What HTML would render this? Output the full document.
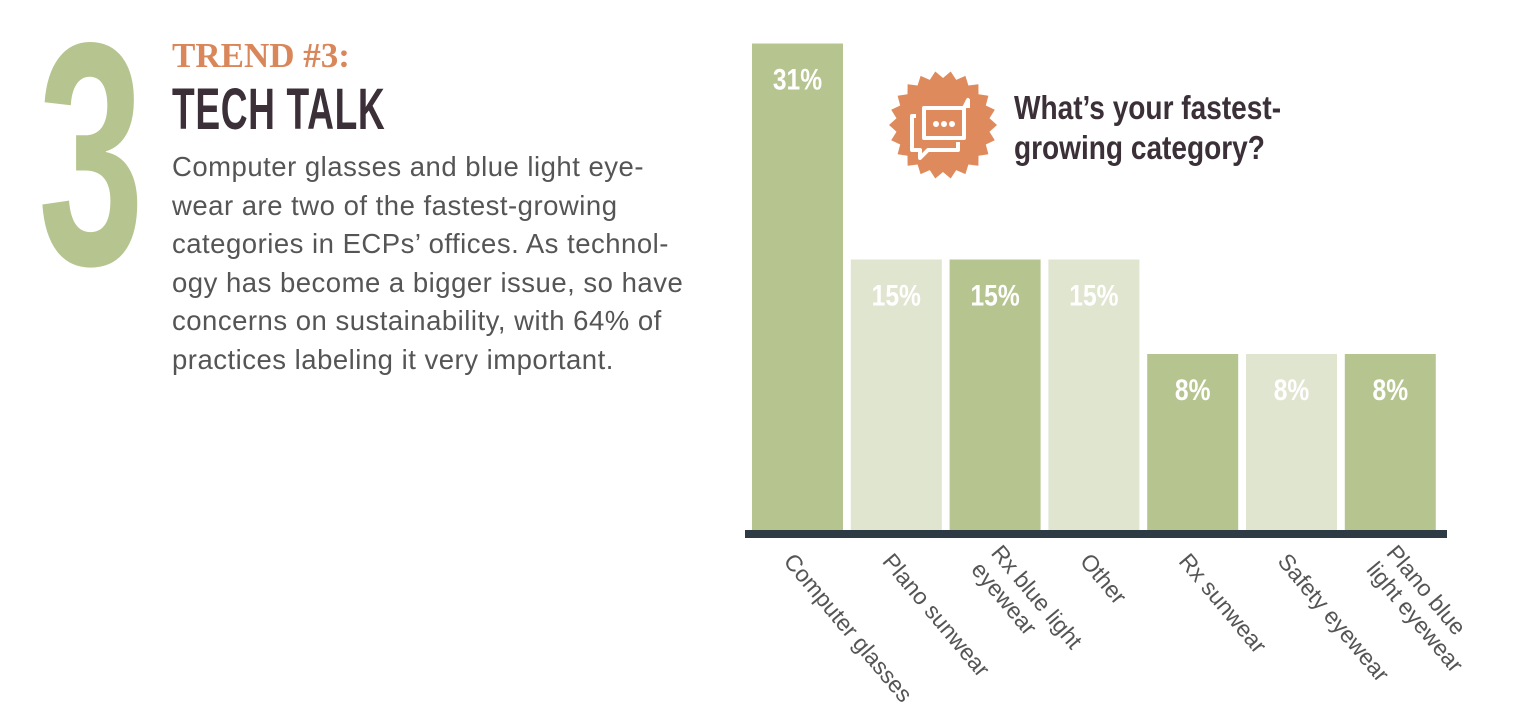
<!DOCTYPE html>
<html><head><meta charset="utf-8"><style>
body{margin:0;width:1530px;height:722px;background:#fff;overflow:hidden;font-family:"Liberation Sans",sans-serif;position:relative}
.a{position:absolute}
</style></head><body>
<div class="a" style="left:38px;top:-4px;font-size:318px;font-weight:bold;color:#b6c48f;transform:scaleX(0.6);transform-origin:left top;line-height:1">3</div>
<div class="a" style="left:172px;top:36px;font-family:'Liberation Serif',serif;font-weight:bold;font-size:35px;color:#d9875a">TREND #3:</div>
<div class="a" style="left:172px;top:76px;font-weight:bold;font-size:58px;color:#3b2f38;transform:scaleX(0.64);transform-origin:left top;letter-spacing:1px">TECH TALK</div>
<div class="a" style="left:172px;top:148px;width:580px;font-size:27.5px;line-height:38.5px;color:#555;letter-spacing:0.5px">Computer glasses and blue light eye-<br>wear are two of the fastest-growing<br>categories in ECPs’ offices. As technol-<br>ogy has become a bigger issue, so have<br>concerns on sustainability, with 64% of<br>practices labeling it very important.</div>
<svg id="chart" class="a" style="left:0;top:0" width="1530" height="722"></svg>
<script>
const categories=["Computer glasses","Plano sunwear","Rx blue light|eyewear","Other","Rx sunwear","Safety eyewear","Plano blue|light eyewear"];
const values=[31,15,15,15,8,8,8];
const labels=["31%","15%","15%","15%","8%","8%","8%"];
const shades=["d","l","d","l","d","l","d"];
const svg=document.getElementById('chart');const NS="http://www.w3.org/2000/svg";
const base=530,x0=752,step=98.8,bw=91;
function y(v){return base-(68+13.5*v);}
function mk(t,a){const e=document.createElementNS(NS,t);for(const k in a)e.setAttribute(k,a[k]);svg.appendChild(e);return e;}
values.forEach((v,i)=>{
 const x=x0+i*step;
 const r=mk('rect',{x:x,y:y(v),width:bw,height:base-y(v),fill:shades[i]=="d"?"#b6c48f":"#e0e5d0"});
 
 
 const t=mk('text',{x:x+bw/2,y:y(v)+46,'text-anchor':'middle','font-size':30,'font-weight':'bold',fill:'#fff','font-family':'Liberation Sans, sans-serif',transform:`translate(${x+bw/2} 0) scale(0.82 1) translate(${-(x+bw/2)} 0)`});
 t.textContent=labels[i];
 
 
 const lines=categories[i].split('|');
 const g=mk('g',{transform:`translate(${x+bw/2-8} 556) rotate(50)`});
 
 
 lines.forEach((ln,j)=>{const tt=document.createElementNS(NS,'text');
  tt.setAttribute('x',0);tt.setAttribute('y',(j-(lines.length-1))*26+9+(lines.length>1?13:0));
  tt.setAttribute('font-size',23);tt.setAttribute('fill','#555');tt.setAttribute('font-family','Liberation Sans, sans-serif');
  tt.textContent=ln;g.appendChild(tt);});
});
const ax=mk('rect',{x:745,y:530,width:702,height:8,fill:'#2e3a44'});


</script>
<svg class="a" style="left:888px;top:70px" width="110" height="110" viewBox="0 0 110 110">
<polygon fill="#df8a5c" points="" id="star"/>
<g fill="none" stroke="#fff" stroke-width="4" stroke-linejoin="round">
<path d="M36 38 h40 v30 h-40 z"/>
<path d="M28 46 h-4 v34 h8 v8 l8 -8 h30 v-8"/>
<path d="M76 38 l4 -8 v8"/>
</g>
<g fill="#fff"><circle cx="48" cy="54" r="3"/><circle cx="56" cy="54" r="3"/><circle cx="64" cy="54" r="3"/></g>
</svg>
<script>
(function(){let p=[];const n=22;for(let i=0;i<n*2;i++){const r=i%2?47:54;const a=Math.PI*i/n;p.push((55+r*Math.cos(a)).toFixed(1)+','+(55+r*Math.sin(a)).toFixed(1));}document.getElementById('star').setAttribute('points',p.join(' '));})();
</script>
<div class="a" style="left:1014px;top:88px;font-weight:bold;font-size:33px;line-height:40px;color:#3b2f38;transform:scaleX(0.85);transform-origin:left top">What’s your fastest-<br>growing category?</div>
</body></html>
